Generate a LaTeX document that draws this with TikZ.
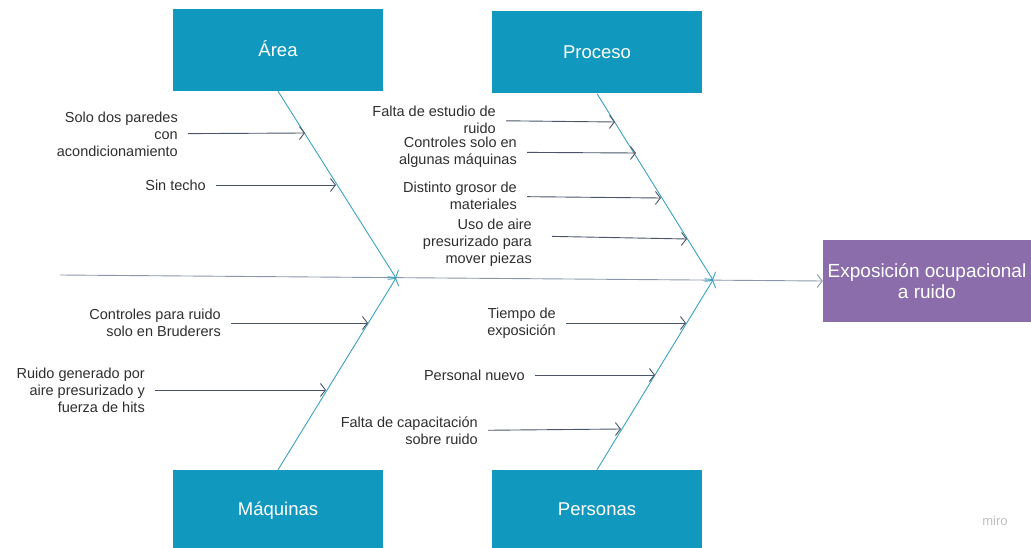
\documentclass[tikz,border=0pt]{standalone}
\usepackage{fontspec}
\setmainfont{Liberation Sans}
\usetikzlibrary{arrows.meta}
\usetikzlibrary{positioning}

\definecolor{boxblue}{HTML}{1198BF}
\definecolor{bonecol}{HTML}{3AA2BF}
\definecolor{twigcol}{HTML}{4A5468}
\definecolor{spinecol}{HTML}{8A96AA}
\definecolor{effectcol}{HTML}{8A6DAA}
\definecolor{causetext}{HTML}{2E2E2E}

\tikzset{
  category/.style = {fill = boxblue, text = white, minimum width = 210pt, minimum height = 82pt, inner sep = 0pt, text height = 13pt, text depth = 0pt, font = \fontsize{18.5}{22}\selectfont},
  effectbox/.style = {fill = effectcol, text = white, minimum width = 208pt, minimum height = 82pt, inner sep = 0pt, align = center, font = \fontsize{19}{21}\selectfont},
  cause/.style = {text = causetext, align = right, inner sep = 0pt, anchor = east, font = \fontsize{14.5}{17}\selectfont},
  bone/.style = {draw = bonecol, line width = 0.9pt, -{Straight Barb[length = 5pt, width = 13pt]}},
  twig/.style = {draw = twigcol, line width = 0.9pt, shorten <= 10pt, -{Straight Barb[length = 5pt, width = 13pt]}},
  spine/.style = {draw = spinecol, line width = 0.9pt, -{Straight Barb[length = 5pt, width = 13pt]}}
}

\begin{document}
\begin{tikzpicture}[x = 1pt, y = -1pt]
\useasboundingbox (0, 0) rectangle (1031, 548);

\node[category] (area) at (278, 50) {Área};
\node[category] (proceso) at (597, 52.5) {Proceso};
\node[category, minimum height = 78pt] (maquinas) at (278, 509) {Máquinas};
\node[category, minimum height = 78pt] (personas) at (597, 509) {Personas};
\node[effectbox] (efecto) at (927, 281) {Exposición ocupacional\\a ruido};
\node[text = gray!50, font = \fontsize{13}{15}\selectfont] (miro) at (995, 521) {miro};

\coordinate (cola) at (60, 275);
\coordinate (nudoA) at (396, 278);
\coordinate (nudoB) at (713, 280);

\draw[spine] (cola) -- (efecto.west);
\draw[bone] (area.south) -- (nudoA);
\draw[bone] (maquinas.north) -- (nudoA);
\draw[bone] (proceso.south) -- (nudoB);
\draw[bone] (personas.north) -- (nudoB);

\node[cause] (paredes) at (178, 134) {Solo dos paredes\\con\\acondicionamiento};
\node[cause] (techo) at (206, 185) {Sin techo};
\node[cause] (estudio) at (496, 120) {Falta de estudio de\\ruido};
\node[cause] (controles) at (517, 152) {Controles solo en\\algunas máquinas};
\node[cause] (grosor) at (517, 196) {Distinto grosor de\\materiales};
\node[cause] (aire) at (532, 243) {Uso de aire\\presurizado para\\mover piezas};
\node[cause] (bruderers) at (221, 323) {Controles para ruido\\solo en Bruderers};
\node[cause] (hits) at (145, 390) {Ruido generado por\\aire presurizado y\\fuerza de hits};
\node[cause] (tiempo) at (556, 323) {Tiempo de\\exposición};
\node[cause] (nuevo) at (525, 375) {Personal nuevo};
\node[cause] (capacitacion) at (478, 431) {Falta de capacitación\\sobre ruido};

\coordinate (pA1) at (305, 133);
\coordinate (pA2) at (336, 185);
\coordinate (pP1) at (615, 122);
\coordinate (pP2) at (636, 153);
\coordinate (pP3) at (661, 198);
\coordinate (pP4) at (687, 239);
\coordinate (pM1) at (368, 323);
\coordinate (pM2) at (326, 390);
\coordinate (pR1) at (686, 323);
\coordinate (pR2) at (655, 375);
\coordinate (pR3) at (621, 429);

\draw[twig] (paredes) -- (pA1);
\draw[twig] (techo) -- (pA2);
\draw[twig] (estudio) -- (pP1);
\draw[twig] (controles) -- (pP2);
\draw[twig] (grosor) -- (pP3);
\draw[twig, shorten <= 20pt] ([yshift = 7pt] aire.east) -- (pP4);
\draw[twig] (bruderers) -- (pM1);
\draw[twig] (hits) -- (pM2);
\draw[twig] (tiempo) -- (pR1);
\draw[twig] (nuevo) -- (pR2);
\draw[twig] (capacitacion) -- (pR3);

\end{tikzpicture}
\end{document}
